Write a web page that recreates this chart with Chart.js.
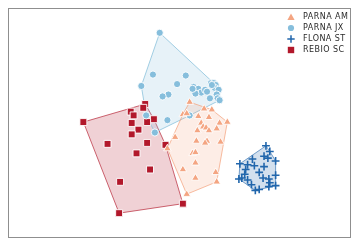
<!DOCTYPE html>
<html><head><meta charset="utf-8">
<script src="https://cdn.jsdelivr.net/npm/chart.js@4"></script>
<style>
html,body{margin:0;padding:0;background:#fff;width:360px;height:247px;overflow:hidden;}
#frame{position:absolute;left:8px;top:8px;width:343px;height:230px;border:1px solid #8f8f8f;box-sizing:border-box;}
#wrap{position:absolute;left:0;top:0;width:341px;height:228px;}
#legend{position:absolute;left:277px;top:2px;font-family:"DejaVu Sans",sans-serif;font-size:8px;letter-spacing:0.45px;color:#2a2a2a;}
.li{height:11px;display:flex;align-items:center;white-space:nowrap;}
.li svg{width:8px;height:8px;margin-right:8px;margin-left:1px;}
</style></head>
<body>
<div id="frame"><div id="wrap"><canvas id="c"></canvas></div><div id="legend"></div></div>
<script>
const groupNames = ["PARNA AM", "PARNA JX", "FLONA ST", "REBIO SC"];

const parnaAM_x = [0.10,0.03,0.07,0.25,0.33,0.19,0.30,0.49,0.41,0.22,0.24,0.27,0.18,0.30,0.38,-0.05,0.17,0.28,0.26,0.42,-0.13,0.13,0.16,0.16,0.03,0.37,0.16,0.38,0.07];
const parnaAM_y = [0.22,0.09,0.10,0.15,0.14,0.07,0.06,0.01,0.00,0.00,-0.04,-0.05,-0.08,-0.08,-0.06,-0.15,-0.19,-0.19,-0.21,-0.20,-0.27,-0.32,-0.31,-0.42,-0.49,-0.52,-0.58,-0.62,-0.75];

const parnaJX_x = [-0.21,-0.28,0.06,-0.40,-0.03,-0.12,-0.18,0.14,0.15,0.19,0.22,0.26,0.28,0.32,0.35,0.37,0.36,0.40,0.38,0.31,0.39,0.41,0.16,0.13,-0.35,-0.13,0.10,-0.26,0.33];
const parnaJX_y = [0.95,0.51,0.50,0.39,0.41,0.30,0.28,0.38,0.34,0.36,0.32,0.35,0.33,0.42,0.42,0.40,0.37,0.35,0.30,0.26,0.26,0.24,0.31,0.36,0.08,0.03,0.08,-0.10,0.40];

const flonaST_x = [0.89,0.93,0.75,0.87,0.91,0.99,0.62,0.70,0.77,0.87,0.68,0.82,0.67,0.99,0.64,0.61,0.86,0.92,0.93,0.74,0.92,0.99,0.82,0.78,0.70];
const flonaST_y = [-0.24,-0.30,-0.38,-0.35,-0.37,-0.40,-0.43,-0.44,-0.45,-0.46,-0.49,-0.52,-0.54,-0.55,-0.58,-0.59,-0.58,-0.59,-0.63,-0.65,-0.67,-0.66,-0.70,-0.71,-0.60];

const rebioSC_x = [-1.00,-0.63,0.03,-0.36,-0.38,-0.51,-0.48,-0.27,-0.50,-0.34,-0.43,-0.50,-0.75,-0.34,-0.15,-0.45,-0.31,-0.62];
const rebioSC_y = [0.01,-0.95,-0.85,0.20,0.16,0.12,0.08,0.04,0.00,0.01,-0.07,-0.12,-0.22,-0.21,-0.23,-0.32,-0.49,-0.62];

const xRange = [-1.71, 1.70];
const yRange = [-1.14, 1.14];

const colors = ["#f4a582", "#86bedc", "#2166ac", "#b2182b"];
const hullStroke = ["rgba(244,165,130,0.75)", "rgba(146,197,222,0.85)", "rgba(33,102,172,0.6)", "rgba(178,24,43,0.65)"];
const hullFill = ["rgba(244,165,130,0.2)", "rgba(146,197,222,0.22)", "rgba(33,102,172,0.2)", "rgba(178,24,43,0.2)"];
const styles = ["triangle", "circle", "cross", "rect"];
const radii = [4.4, 3.6, 3.9, 4.9];

const xs = [parnaAM_x, parnaJX_x, flonaST_x, rebioSC_x];
const ys = [parnaAM_y, parnaJX_y, flonaST_y, rebioSC_y];

function pts(xa, ya){ return xa.map((x,i)=>({x:x, y:ya[i]})); }
function hull(p){
  const s = p.slice().sort((a,b)=>a.x-b.x||a.y-b.y);
  const cr=(o,a,b)=>(a.x-o.x)*(b.y-o.y)-(a.y-o.y)*(b.x-o.x);
  const lo=[],up=[];
  for(const q of s){while(lo.length>=2&&cr(lo[lo.length-2],lo[lo.length-1],q)<=0)lo.pop();lo.push(q);}
  for(let i=s.length-1;i>=0;i--){const q=s[i];while(up.length>=2&&cr(up[up.length-2],up[up.length-1],q)<=0)up.pop();up.push(q);}
  up.pop();lo.pop();
  const h=lo.concat(up); h.push(h[0]); return h;
}

const datasets = [];
groupNames.forEach((n,i)=>{
  const p = pts(xs[i], ys[i]);
  datasets.push({label:n+" hull", data:hull(p), showLine:true, fill:'shape',
    borderColor:hullStroke[i], backgroundColor:hullFill[i], borderWidth:1, pointRadius:0, tension:0, order:5});
});
groupNames.forEach((n,i)=>{
  const p = pts(xs[i], ys[i]);
  const isCross = styles[i]==='cross';
  datasets.push({label:n, data:p, pointStyle:styles[i], pointRadius:radii[i],
    backgroundColor:colors[i], borderColor:isCross?colors[i]:'#ffffff',
    borderWidth:isCross?1.6:0.9, order:1});
});

new Chart(document.getElementById('c'), {
  type:'scatter',
  data:{datasets},
  options:{
    responsive:true, maintainAspectRatio:false, animation:false,
    layout:{padding:0},
    plugins:{legend:{display:false}, tooltip:{enabled:false}},
    scales:{
      x:{type:'linear', min:xRange[0], max:xRange[1], display:false},
      y:{type:'linear', min:yRange[0], max:yRange[1], display:false}
    }
  }
});

const svgs = [
  '<svg viewBox="0 0 8 8"><polygon points="4,0.6 7.6,7 0.4,7" fill="'+colors[0]+'"/></svg>',
  '<svg viewBox="0 0 8 8"><circle cx="4" cy="4" r="3.1" fill="'+colors[1]+'"/></svg>',
  '<svg viewBox="0 0 8 8"><path d="M4 0.3V7.7M0.3 4H7.7" stroke="'+colors[2]+'" stroke-width="1.5"/></svg>',
  '<svg viewBox="0 0 8 8"><rect x="0.8" y="0.8" width="6.4" height="6.4" fill="'+colors[3]+'"/></svg>'
];
document.getElementById('legend').innerHTML = groupNames.map((n,i)=>'<div class="li">'+svgs[i]+'<span>'+n+'</span></div>').join('');
</script>
</body></html>
